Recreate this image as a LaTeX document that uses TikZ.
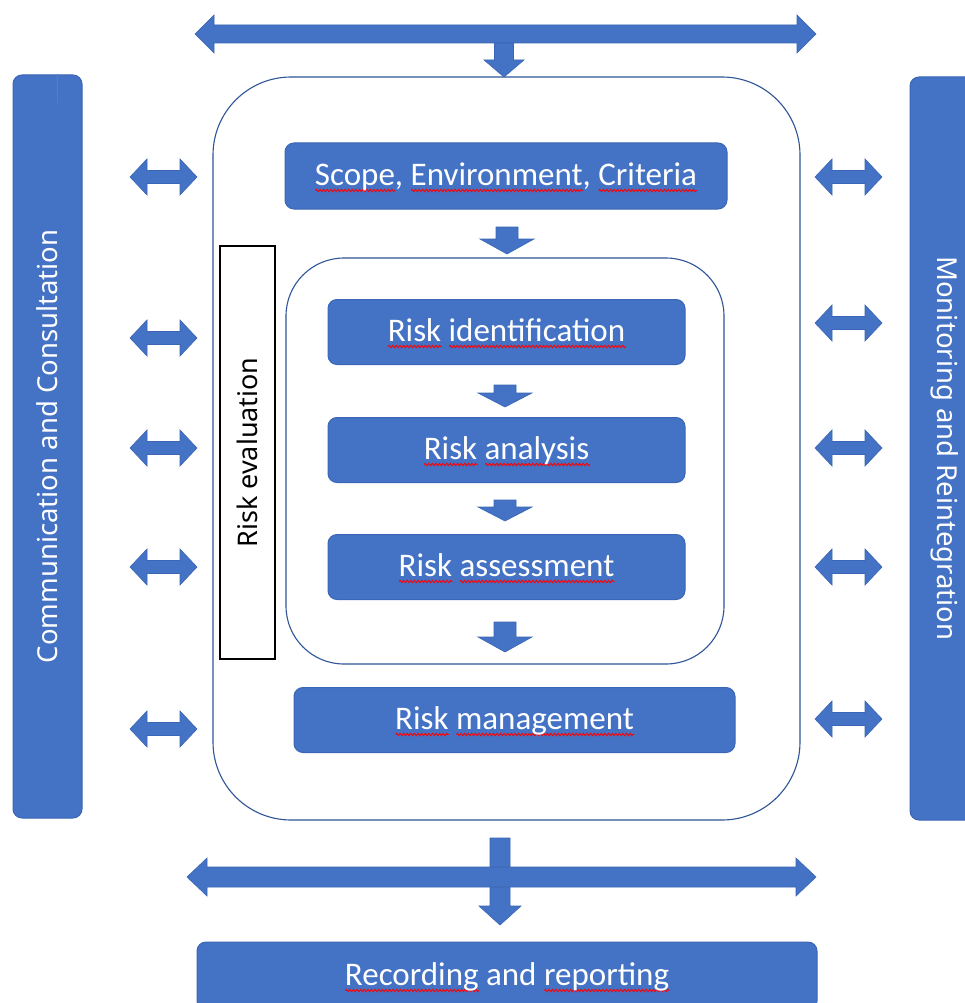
\documentclass[tikz,border=0pt]{standalone}
\usepackage{fontspec}
\setmainfont{Carlito}
\newfontfamily\sidefont{Noto Sans}
\usetikzlibrary{decorations.pathmorphing}
\definecolor{obl}{HTML}{4472C4}
\definecolor{obd}{HTML}{3A66B5}
\definecolor{oline}{HTML}{2F5597}
\newsavebox\sqbox
\newcommand\sq[1]{\sbox\sqbox{#1}\rlap{\tikz[x=1pt,y=1pt,baseline=0pt,sharp corners]\draw[red, sharp corners, line width=0.9pt, decorate,
  decoration={zigzag, amplitude=1.2pt, segment length=3.6pt}] (0,-5) -- (\the\wd\sqbox,-5);}\usebox\sqbox}
\newcommand\harr[6]{% x1 x2 y shafthalf headhalf headlen
  \filldraw[blockarr] (#1,#3) -- (#1+#6,#3-#5) -- (#1+#6,#3-#4) -- (#2-#6,#3-#4) -- (#2-#6,#3-#5) -- (#2,#3)
  -- (#2-#6,#3+#5) -- (#2-#6,#3+#4) -- (#1+#6,#3+#4) -- (#1+#6,#3+#5) -- cycle;}
\newcommand\darr[6]{% x ytop ytip shafthalf headhalf headlen
  \filldraw[blockarr] (#1-#4,#2) -- (#1+#4,#2) -- (#1+#4,#3-#6) -- (#1+#5,#3-#6) -- (#1,#3)
  -- (#1-#5,#3-#6) -- (#1-#4,#3-#6) -- cycle;}
\tikzset{
  blockarr/.style={fill=obl, draw=obd, line width=0.6pt, line join=miter},
  bluebox/.style={fill=obl, draw=obd, line width=1pt, rounded corners=9pt, text=white,
    font=\fontsize{33}{40}\selectfont, inner sep=0pt, align=center, text height=25pt, text depth=6pt},
  sidebar/.style={fill=obl, draw=obd, line width=1pt, rounded corners=9pt, text=white,
    font=\sidefont\fontsize{27.5}{33}\selectfont, inner sep=0pt},
  frame/.style={draw=oline, line width=1.1pt, inner sep=0pt},
}
\begin{document}
\begin{tikzpicture}[x=1pt, y=-1pt]
\useasboundingbox (0,0) rectangle (965,1003);
\clip (0,0) rectangle (965,1003);
\fill[white] (0,0) rectangle (965,1003);

% side bars
\node[sidebar, rotate=90, minimum width=743, minimum height=69] (cc) at (47.5,446.5) {Communication and Consultation};
\node[sidebar, rotate=-90, minimum width=743, minimum height=70] (mr) at (945,448.5) {Monitoring and Reintegration};
\draw[orange!80!black, line width=1pt] (57,74) -- (57,103);

% frames
\node[frame, rounded corners=78pt, minimum width=587, minimum height=743] (outer) at (506.5,448.5) {};
\node[frame, rounded corners=58pt, minimum width=438, minimum height=406] (inner) at (505,461) {};
\node[draw=black, line width=1.4pt, minimum width=55, minimum height=413, inner sep=0pt] (evalbox) at (247.5,452.5) {};
\node[rotate=90, font=\sidefont\fontsize{27}{32}\selectfont, text=black] (evaltxt) at (evalbox.center) {Risk evaluation};

% boxes
\node[bluebox, minimum width=442, minimum height=66] (scope) at (506,176) {\sq{Scope}, \sq{Environment}, \sq{Criteria}};
\node[bluebox, minimum width=357, minimum height=65] (ident) at (506.5,332) {\sq{Risk} \sq{identification}};
\node[bluebox, minimum width=357, minimum height=65] (anal) at (506.5,450) {\sq{Risk} \sq{analysis}};
\node[bluebox, minimum width=357, minimum height=65] (assess) at (506.5,567) {\sq{Risk} \sq{assessment}};
\node[bluebox, minimum width=441, minimum height=65] (manage) at (514.5,720) {\sq{Risk} \sq{management}};
\node[bluebox, minimum width=620, minimum height=68] (record) at (507,976) {\sq{Recording} and \sq{reporting}};

% top arrows
\harr{195}{816}{34}{9}{19}{19}
\darr{504}{43}{77}{9.5}{20}{17}
% inner down arrows
\darr{507}{227}{254}{11}{27}{15}
\darr{505}{385}{407}{11}{27}{14}
\darr{505}{500}{521}{11}{27}{14}
\darr{505}{622}{652}{11}{27}{15}

% left side arrows
\foreach \yy in {177,338,448,567,729}{\harr{130}{197}{\yy}{6.5}{18}{17}}
% right side arrows
\foreach \yy in {177,323,448,567,719}{\harr{815}{882}{\yy}{6.5}{18}{17}}

% bottom arrows
\darr{500}{838}{925}{10}{21}{19}
\harr{187}{816}{877}{10}{19}{20}
\end{tikzpicture}
\end{document}
